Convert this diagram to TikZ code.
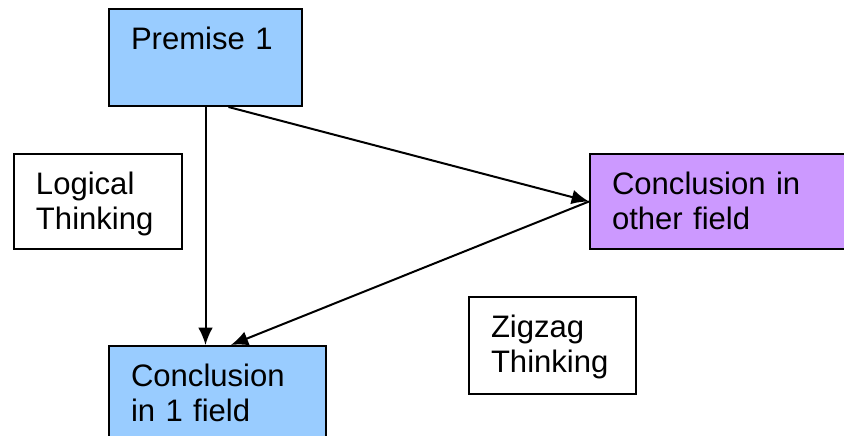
\documentclass[tikz,border=0pt]{standalone}
\usepackage{fontspec}
\setmainfont{Liberation Sans}
\usetikzlibrary{arrows.meta}
\definecolor{boxblue}{HTML}{99CCFF}
\definecolor{boxpurple}{HTML}{CC99FF}
\tikzset{
  >={Latex[length=13pt,width=11pt]},
  box/.style={draw,line width=1.5pt,anchor=north west,align=left,
    inner xsep=16.5pt,inner ysep=0pt,text height=30pt,
    font=\fontsize{23.3}{26.3}\selectfont},
}

\begin{document}
\begin{tikzpicture}[x=0.75pt,y=-0.75pt]
    \useasboundingbox (0,0) rectangle (844,436);
    \node[box,fill=boxblue,text width=111.75pt,text depth=42.75pt] (premise) at (108,8) {Premise 1};
    \node[box,fill=boxblue,text width=129.75pt,text depth=42.75pt] (single) at (108,345) {Conclusion\\in 1 field};
    \node[box,fill=boxpurple,text width=180pt,text depth=41.25pt] (other) at (589,153) {Conclusion in\\other field};
    \node[box,text width=93pt,text depth=41.25pt] (logical) at (13,153) {Logical\\Thinking};
    \node[box,text width=92.25pt,text depth=42.75pt] (zigzag) at (468,296) {Zigzag\\Thinking};
    \begin{scope}[->,line width=1.5pt]
      \draw (premise.south) -- (premise.south |- single.north);
      \draw ([xshift=17.25pt]premise.south) -- (other.west);
      \draw (other.west) -- ([xshift=10pt]single.north);
    \end{scope}
  \end{tikzpicture}
\end{document}
